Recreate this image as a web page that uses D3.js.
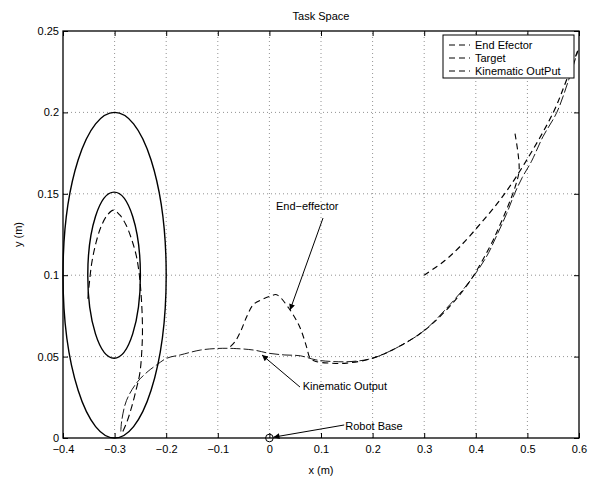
<!DOCTYPE html>
<html>
<head>
<meta charset="utf-8">
<script src="https://cdn.jsdelivr.net/npm/d3@7"></script>
<style>
  body { margin: 0; background: #fff; }
  svg text { font-family: "Liberation Sans", Arial, Helvetica, sans-serif; font-size: 11px; fill: #000; }
</style>
</head>
<body>
<svg id="chart" width="596" height="481"></svg>
<script>
// ---------- data ----------
const xTicks = [-0.4, -0.3, -0.2, -0.1, 0, 0.1, 0.2, 0.3, 0.4, 0.5, 0.6];
const xTickLabels = ["\u22120.4", "\u22120.3", "\u22120.2", "\u22120.1", "0", "0.1", "0.2", "0.3", "0.4", "0.5", "0.6"];
const yTicks = [0, 0.05, 0.1, 0.15, 0.2, 0.25];
const yTickLabels = ["0", "0.05", "0.1", "0.15", "0.2", "0.25"];

// ellipses: [cx, cy, rx, ry]
const outerEllipse = [-0.3, 0.1, 0.1, 0.1];
const innerEllipse = [-0.301, 0.1, 0.051, 0.051];

// dashed inner loop
const loopX = [-0.284, -0.276, -0.267, -0.258, -0.251, -0.247, -0.246, -0.248, -0.252, -0.258, -0.267, -0.278, -0.290, -0.302, -0.314, -0.326, -0.336, -0.344, -0.349, -0.352];
const loopY = [0.004, 0.010, 0.019, 0.030, 0.040, 0.055, 0.068, 0.085, 0.100, 0.112, 0.122, 0.131, 0.137, 0.140, 0.137, 0.130, 0.120, 0.108, 0.095, 0.085];

// End Efector
const effX = [0.476, 0.484, 0.476, 0.463, 0.447, 0.428, 0.39, 0.35, 0.30, 0.25, 0.20, 0.15, 0.117, 0.09, 0.079, 0.072, 0.059, 0.037, 0.014, 0.001, -0.015, -0.031, -0.044, -0.055, -0.067, -0.08];
const effY = [0.187, 0.165, 0.154, 0.143, 0.131, 0.118, 0.097, 0.081, 0.066, 0.056, 0.049, 0.046, 0.046, 0.047, 0.049, 0.056, 0.068, 0.080, 0.088, 0.087, 0.085, 0.082, 0.0745, 0.066, 0.059, 0.055];

// Target
const targetX = [0.30, 0.34, 0.369, 0.41, 0.4535, 0.4986, 0.5502, 0.576, 0.60];
const targetY = [0.100, 0.109, 0.1175, 0.132, 0.149, 0.1707, 0.200, 0.220, 0.240];

// Kinematic OutPut
const kinX = [-0.288, -0.286, -0.277, -0.257, -0.235, -0.218, -0.199, -0.173, -0.134, -0.10, -0.07, -0.03, 0, 0.03, 0.06, 0.09, 0.12, 0.16, 0.20, 0.25, 0.30, 0.35, 0.39, 0.42, 0.44, 0.46, 0.475, 0.49, 0.508, 0.53, 0.557, 0.58, 0.598];
const kinY = [0.004, 0.011, 0.023, 0.034, 0.041, 0.045, 0.049, 0.051, 0.054, 0.055, 0.055, 0.054, 0.052, 0.051, 0.0505, 0.048, 0.047, 0.047, 0.049, 0.056, 0.066, 0.082, 0.097, 0.111, 0.124, 0.138, 0.150, 0.160, 0.170, 0.185, 0.200, 0.220, 0.238];

const legendLabels = ["End Efector", "Target", "Kinematic OutPut"];

// annotations: text position, arrow tail, arrow head (data coords)
const annotations = [
  { text: "End\u2212effector", tx: 0.0128, ty: 0.1400, x1: 0.1039, y1: 0.1351, x2: 0.0400, y2: 0.0786 },
  { text: "Kinematic Output", tx: 0.0645, ty: 0.0295, x1: 0.0593, y1: 0.0313, x2: -0.0143, y2: 0.0510 },
  { text: "Robot Base", tx: 0.1470, ty: 0.0049, x1: 0.1450, y1: 0.0080, x2: 0.0079, y2: 0.0005 }
];
const basePoint = [0, 0];

// ---------- layout ----------
const W = 596, H = 481;
const m = { left: 63, right: 17, top: 31, bottom: 43 };
const svg = d3.select("#chart");
const x = d3.scaleLinear().domain([-0.4, 0.6]).range([m.left, W - m.right]);
const y = d3.scaleLinear().domain([0, 0.25]).range([H - m.bottom, m.top]);
const x0 = m.left, x1 = W - m.right, y0 = H - m.bottom, y1 = m.top;

// grid
const grid = svg.append("g").attr("stroke", "#777").attr("stroke-width", 0.8).attr("stroke-dasharray", "1,3");
grid.selectAll("line.gx").data(xTicks.slice(1, -1)).enter().append("line")
  .attr("x1", d => x(d)).attr("x2", d => x(d)).attr("y1", y0).attr("y2", y1);
grid.selectAll("line.gy").data(yTicks.slice(1, -1)).enter().append("line")
  .attr("y1", d => y(d)).attr("y2", d => y(d)).attr("x1", x0).attr("x2", x1);

// axes
const axB = svg.append("g").attr("transform", `translate(0,${y0})`)
  .call(d3.axisBottom(x).tickValues(xTicks).tickFormat((d, i) => xTickLabels[i]).tickSizeInner(-5).tickSizeOuter(0).tickPadding(7));
const axL = svg.append("g").attr("transform", `translate(${x0},0)`)
  .call(d3.axisLeft(y).tickValues(yTicks).tickFormat((d, i) => yTickLabels[i]).tickSizeInner(-5).tickSizeOuter(0).tickPadding(4));
const axT = svg.append("g").attr("transform", `translate(0,${y1})`)
  .call(d3.axisTop(x).tickValues(xTicks).tickFormat("").tickSizeInner(-5).tickSizeOuter(0));
const axR = svg.append("g").attr("transform", `translate(${x1},0)`)
  .call(d3.axisRight(y).tickValues(yTicks).tickFormat("").tickSizeInner(-5).tickSizeOuter(0));
[axB, axL, axT, axR].forEach(g => {
  g.select(".domain").remove();
  g.selectAll("line").attr("stroke", "#000");
  g.selectAll("text").attr("font-size", "11px").attr("font-family", null);
});
svg.append("rect").attr("x", x0).attr("y", y1).attr("width", x1 - x0).attr("height", y0 - y1)
  .attr("fill", "none").attr("stroke", "#000").attr("stroke-width", 1.3);

// ellipses
function drawEllipse(e, sw) {
  svg.append("ellipse")
    .attr("cx", x(e[0])).attr("cy", y(e[1]))
    .attr("rx", x(e[0] + e[2]) - x(e[0])).attr("ry", y(e[1]) - y(e[1] + e[3]))
    .attr("fill", "none").attr("stroke", "#000").attr("stroke-width", sw);
}
drawEllipse(outerEllipse, 1.4);
drawEllipse(innerEllipse, 1.4);

const line = d3.line().x(d => x(d[0])).y(d => y(d[1])).curve(d3.curveCatmullRom.alpha(0.5));
function drawPath(xs, ys, dash, sw) {
  svg.append("path").datum(xs.map((v, i) => [v, ys[i]]))
    .attr("d", line).attr("fill", "none").attr("stroke", "#000")
    .attr("stroke-width", sw).attr("stroke-dasharray", dash);
}
drawPath(loopX, loopY, "7,4", 1.1);
drawPath(kinX, kinY, "10,3", 0.9);
drawPath(effX, effY, "6,4", 1.1);
drawPath(targetX, targetY, "6,4", 1.2);

// robot base
svg.append("circle").attr("cx", x(basePoint[0])).attr("cy", y(basePoint[1])).attr("r", 3.8)
  .attr("fill", "none").attr("stroke", "#000").attr("stroke-width", 1);

// arrows
svg.append("defs").append("marker").attr("id", "arr")
  .attr("viewBox", "0 0 10 10").attr("refX", 10).attr("refY", 5)
  .attr("markerWidth", 9).attr("markerHeight", 6).attr("markerUnits", "userSpaceOnUse")
  .attr("orient", "auto")
  .append("path").attr("d", "M0,0 L10,5 L0,10 Z").attr("fill", "#000");
annotations.forEach(a => {
  svg.append("line").attr("x1", x(a.x1)).attr("y1", y(a.y1)).attr("x2", x(a.x2)).attr("y2", y(a.y2))
    .attr("stroke", "#000").attr("stroke-width", 1).attr("marker-end", "url(#arr)");
  svg.append("text").attr("x", x(a.tx)).attr("y", y(a.ty)).text(a.text);
});

// legend
const lg = svg.append("g");
lg.append("rect").attr("x", 443).attr("y", 35).attr("width", 131).attr("height", 43)
  .attr("fill", "#fff").attr("stroke", "#000").attr("stroke-width", 1);
legendLabels.forEach((t, i) => {
  const yy = 45 + i * 13;
  lg.append("line").attr("x1", 449).attr("x2", 470).attr("y1", yy).attr("y2", yy)
    .attr("stroke", "#000").attr("stroke-width", 1).attr("stroke-dasharray", "6,4");
  lg.append("text").attr("x", 475).attr("y", yy + 4).text(t);
});

// titles
svg.append("text").attr("x", (x0 + x1) / 2).attr("y", 20).attr("text-anchor", "middle").text("Task Space");
svg.append("text").attr("x", (x0 + x1) / 2).attr("y", 474).attr("text-anchor", "middle").text("x (m)");
svg.append("text").attr("transform", `translate(22,${(y0 + y1) / 2}) rotate(-90)`).attr("text-anchor", "middle").text("y (m)");
</script>
</body>
</html>
